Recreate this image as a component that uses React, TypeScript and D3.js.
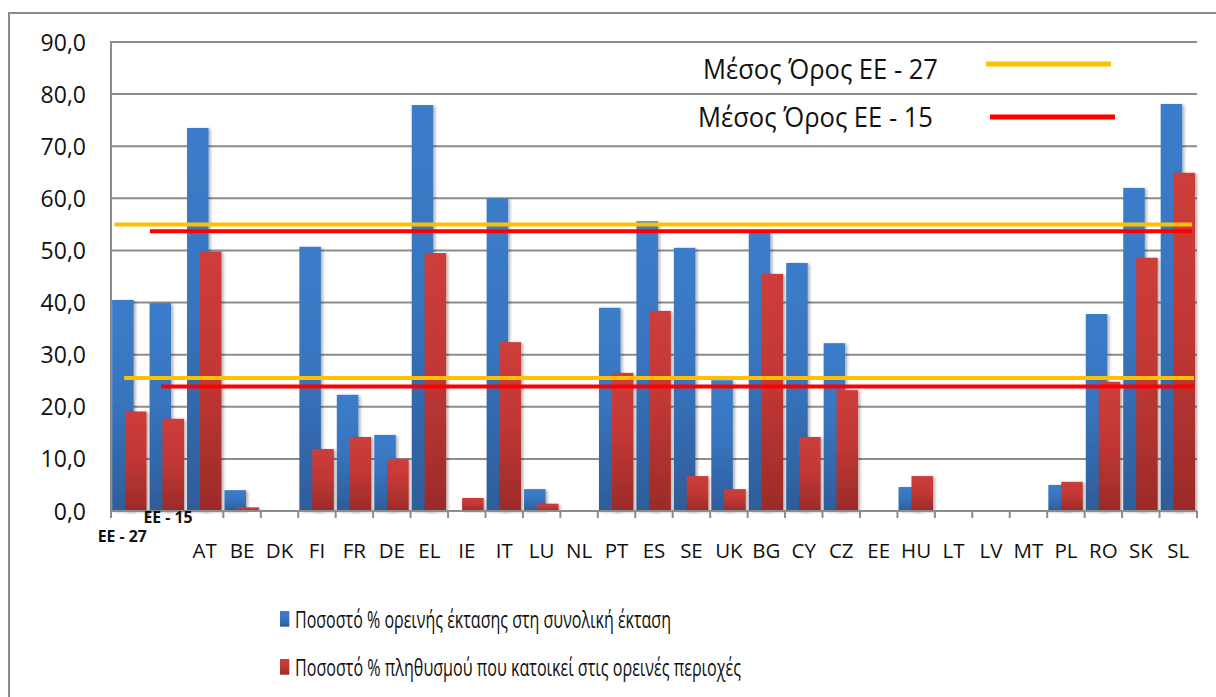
import React from "react";
import * as d3 from "d3";

const categories = ["EE - 27", "EE - 15", "AT", "BE", "DK", "FI", "FR", "DE", "EL", "IE", "IT", "LU", "NL", "PT", "ES", "SE", "UK", "BG", "CY", "CZ", "EE", "HU", "LT", "LV", "MT", "PL", "RO", "SK", "SL"];
const mountainArea = [40.5, 39.9, 73.5, 4.0, 0, 50.7, 22.3, 14.6, 77.9, 0, 60.0, 4.2, 0, 39.0, 55.6, 50.5, 25.1, 53.6, 47.6, 32.2, 0, 4.6, 0, 0, 0, 5.0, 37.8, 62.0, 78.1];
const mountainPop = [19.1, 17.7, 49.8, 0.7, 0, 11.9, 14.2, 10.0, 49.5, 2.5, 32.4, 1.4, 0, 26.5, 38.4, 6.7, 4.2, 45.5, 14.2, 23.2, 0, 6.7, 0, 0, 0, 5.6, 24.8, 48.6, 64.9];
const yTicks = [0, 10, 20, 30, 40, 50, 60, 70, 80, 90];
const seriesNames = [
  "Ποσοστό % ορεινής έκτασης στη συνολική έκταση",
  "Ποσοστό % πληθυσμού που κατοικεί στις ορεινές περιοχές",
];
// average lines: value, start/end in category units
const avgLines = [
  { name: "Μέσος Όρος ΕΕ - 27", value: 55.0, from: 0.09, to: 28.87, color: "#FFC000" },
  { name: "Μέσος Όρος ΕΕ - 15", value: 53.7, from: 1.04, to: 28.87, color: "#FF0000" },
  { name: "Μέσος Όρος ΕΕ - 27", value: 25.5, from: 0.35, to: 28.92, color: "#FFC000" },
  { name: "Μέσος Όρος ΕΕ - 15", value: 23.9, from: 1.34, to: 28.92, color: "#FF0000" },
];
const avgLegend = [
  { name: "Μέσος Όρος ΕΕ - 27", color: "#FFC000" },
  { name: "Μέσος Όρος ΕΕ - 15", color: "#FF0000" },
];

const W = 1216, H = 697;
const plot = { left: 111, right: 1197, top: 42, bottom: 511 };
const FONT = "'Open Sans', 'Noto Sans', sans-serif";

export default function App() {
  const x = d3.scaleBand<string>().domain(categories).range([plot.left, plot.right]).paddingInner(0).paddingOuter(0);
  const y = d3.scaleLinear().domain([0, 90]).range([plot.bottom, plot.top]);
  const bw = x.bandwidth();
  const barW = bw * 0.575;
  const offBlue = bw * 0.03;
  const offRed = offBlue + barW * 0.6;
  const xc = d3.scaleLinear().domain([0, categories.length]).range([plot.left, plot.right]);

  return (
    <svg width={W} height={H} style={{ position: "absolute", left: 0, top: 0, background: "#fff" }} fontFamily={FONT}>
      <defs>
        <linearGradient id="gBlue" x1="0" y1="0" x2="0" y2="1">
          <stop offset="0" stopColor="#3B7DCA" />
          <stop offset="0.45" stopColor="#3875C0" />
          <stop offset="1" stopColor="#2E5D99" />
        </linearGradient>
        <linearGradient id="gRed" x1="0" y1="0" x2="0" y2="1">
          <stop offset="0" stopColor="#CD3D3A" />
          <stop offset="0.45" stopColor="#C23835" />
          <stop offset="1" stopColor="#9B2B28" />
        </linearGradient>
        <filter id="shadow" x="-30%" y="-10%" width="160%" height="120%">
          <feDropShadow dx="2" dy="1" stdDeviation="1.6" floodColor="#000" floodOpacity="0.3" />
        </filter>
      </defs>
      <rect x={9} y={13} width={W} height={H} fill="#fff" stroke="#8c8c8c" strokeWidth={2} />

      {/* gridlines */}
      {yTicks.map((t) => (
        <line key={"g" + t} x1={plot.left} x2={plot.right} y1={y(t)} y2={y(t)} stroke="#8c8c8c" strokeWidth={2} />
      ))}
      {/* y axis */}
      <line x1={plot.left} x2={plot.left} y1={plot.top - 1} y2={plot.bottom + 7} stroke="#8c8c8c" strokeWidth={2} />
      {yTicks.map((t) => (
        <text key={"yl" + t} x={86} y={y(t) + 8.5} textAnchor="end" fontSize={23} fill="#111">
          {d3.format(".1f")(t).replace(".", ",")}
        </text>
      ))}

      {/* bars */}
      {categories.map((c, i) => (
        <g key={"b" + c}>
          {mountainArea[i] > 0 && (
            <rect x={x(c)! + offBlue} y={y(mountainArea[i])} width={barW} height={y(0) - y(mountainArea[i])} fill="url(#gBlue)" filter="url(#shadow)" />
          )}
          {mountainPop[i] > 0 && (
            <rect x={x(c)! + offRed} y={y(mountainPop[i])} width={barW} height={y(0) - y(mountainPop[i])} fill="url(#gRed)" filter="url(#shadow)" />
          )}
        </g>
      ))}

      {/* x axis */}
      <line x1={plot.left} x2={plot.right} y1={plot.bottom} y2={plot.bottom} stroke="#8c8c8c" strokeWidth={2} />
      {d3.range(categories.length + 1).map((i) => (
        <line key={"t" + i} x1={xc(i)} x2={xc(i)} y1={plot.bottom} y2={plot.bottom + 7} stroke="#8c8c8c" strokeWidth={2} />
      ))}
      {categories.map((c, i) =>
        i >= 2 ? (
          <text key={"xl" + c} x={x(c)! + bw / 2} y={558} textAnchor="middle" fontSize={20.5} fill="#111">
            {c}
          </text>
        ) : null
      )}
      <text x={x(categories[0])! + bw / 2 - 7.5} y={542} textAnchor="middle" fontSize={16} fontWeight="bold" fill="#111" textLength={49} lengthAdjust="spacingAndGlyphs">
        {categories[0]}
      </text>
      <text x={x(categories[1])! + bw / 2 + 0.8} y={523} textAnchor="middle" fontSize={16} fontWeight="bold" fill="#111" textLength={49} lengthAdjust="spacingAndGlyphs">
        {categories[1]}
      </text>

      {/* average lines */}
      {avgLines.map((a, i) => (
        <line key={"a" + i} x1={xc(a.from)} x2={xc(a.to)} y1={y(a.value)} y2={y(a.value)} stroke={a.color} strokeWidth={4} />
      ))}

      {/* average legend */}
      {avgLegend.map((a, i) => (
        <g key={"al" + i}>
          <text x={703 - i * 5} y={79 + i * 48} fontSize={27} fill="#111" textLength={235} lengthAdjust="spacingAndGlyphs">
            {a.name}
          </text>
          <line x1={986 + i * 4} x2={1111 + i * 4} y1={64 + i * 53} y2={64 + i * 53} stroke={a.color} strokeWidth={5} />
        </g>
      ))}

      {/* series legend */}
      {seriesNames.map((s, i) => (
        <g key={"sl" + i}>
          <rect x={280} y={611 + i * 48} width={9.3} height={15.7} fill={i === 0 ? "url(#gBlue)" : "url(#gRed)"} />
          <text x={295} y={627.5 + i * 48} fontSize={23} fill="#111" textLength={i === 0 ? 376 : 446} lengthAdjust="spacingAndGlyphs">
            {s}
          </text>
        </g>
      ))}
    </svg>
  );
}
